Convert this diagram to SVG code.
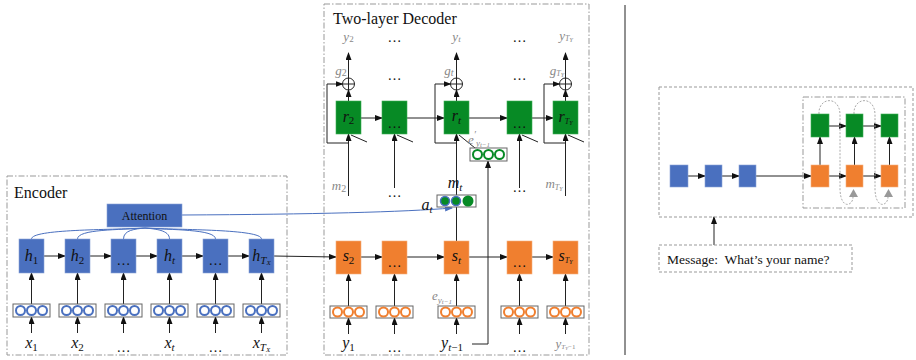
<svg xmlns="http://www.w3.org/2000/svg" width="916" height="360" viewBox="0 0 916 360">
<defs>
<marker id="ah" markerWidth="8" markerHeight="6" refX="7" refY="3" orient="auto" markerUnits="userSpaceOnUse"><path d="M0,0 L8,3 L0,6 z" fill="#111"/></marker>
<marker id="ahb" markerWidth="8" markerHeight="6" refX="7" refY="3" orient="auto" markerUnits="userSpaceOnUse"><path d="M0,0 L8,3 L0,6 z" fill="#4a70bf"/></marker>
<style>
.frame{fill:none;stroke:#999;stroke-width:1}
.dd{stroke-dasharray:6 2 1.5 2}
.ds{stroke-dasharray:3 2}
.blue{fill:#4a70bf;stroke:#8aa3d6;stroke-width:0.6}
.green{fill:#078a25;stroke:#3fae55;stroke-width:0.6}
.orange{fill:#f07f2f;stroke:#f6b07e;stroke-width:0.6}
.emb{fill:#fff;stroke:#666;stroke-width:1}
.cb{fill:#fff;stroke:#4a70bf;stroke-width:2}
.cg{fill:#fff;stroke:#078a25;stroke-width:2}
.co{fill:#fff;stroke:#f07f2f;stroke-width:2}
.ln{fill:none;stroke:#222;stroke-width:1}
.arr{fill:none;stroke:#222;stroke-width:1;marker-end:url(#ah)}
.att{fill:none;stroke:#4a70bf;stroke-width:1}
.title{font-family:"Liberation Serif",serif;font-size:16px;fill:#111}
.m{font-family:"Liberation Serif",serif;font-style:italic;font-size:16px;fill:#111}
.mg{font-family:"Liberation Serif",serif;font-style:italic;font-size:13px;fill:#888}
.dots{font-family:"Liberation Serif",serif;font-size:14px;fill:#111}
.sub{font-size:11px}
.up{font-style:normal}
.loop{fill:none;stroke:#aaa;stroke-width:1;stroke-dasharray:2 1.5}
</style>
</defs>
<rect width="916" height="360" fill="#fff"/>

<!-- frames -->
<rect id="encoder-frame" class="frame dd" x="7" y="176" width="280" height="179"/>
<text class="title" x="14" y="198">Encoder</text>
<rect id="decoder-frame" class="frame dd" x="324" y="4" width="265" height="351"/>
<text class="title" x="333" y="24">Two-layer Decoder</text>
<line x1="625" y1="5" x2="625" y2="355" stroke="#222" stroke-width="1"/>

<!-- connectors -->
<g id="connectors">
  <path class="att" d="M31.5,239 C31.5,229 110,230 145,228"/>
  <path class="att" d="M77.5,239 C77.5,229 120,230 145,228"/>
  <path class="att" d="M123.5,239 C123.5,230 135,229 145,228"/>
  <path class="att" d="M169.5,239 C169.5,230 155,229 145,228"/>
  <path class="att" d="M215.5,239 C215.5,229 170,230 145,228"/>
  <path class="att" d="M261.5,239 C261.5,229 180,230 145,228"/>
  <path d="M182,215 Q380,214 452,208" fill="none" stroke="#4a70bf" stroke-width="1" marker-end="url(#ahb)"/>
  <line class="arr" x1="44" y1="256" x2="65" y2="256"/>
  <line class="arr" x1="90" y1="256" x2="111" y2="256"/>
  <line class="arr" x1="136" y1="256" x2="157" y2="256"/>
  <line class="arr" x1="182" y1="256" x2="203" y2="256"/>
  <line class="arr" x1="228" y1="256" x2="249" y2="256"/>
  <line class="arr" x1="274" y1="256" x2="336" y2="257"/>
  <g>
    <line class="arr" x1="31.5" y1="304" x2="31.5" y2="273"/>
    <line class="arr" x1="77.5" y1="304" x2="77.5" y2="273"/>
    <line class="arr" x1="123.5" y1="304" x2="123.5" y2="273"/>
    <line class="arr" x1="169.5" y1="304" x2="169.5" y2="273"/>
    <line class="arr" x1="215.5" y1="304" x2="215.5" y2="273"/>
    <line class="arr" x1="261.5" y1="304" x2="261.5" y2="273"/>
    <line class="arr" x1="31.5" y1="333" x2="31.5" y2="317"/>
    <line class="arr" x1="77.5" y1="333" x2="77.5" y2="317"/>
    <line class="arr" x1="123.5" y1="333" x2="123.5" y2="317"/>
    <line class="arr" x1="169.5" y1="333" x2="169.5" y2="317"/>
    <line class="arr" x1="215.5" y1="333" x2="215.5" y2="317"/>
    <line class="arr" x1="261.5" y1="333" x2="261.5" y2="317"/>
  </g>
  <line class="arr" x1="361" y1="257" x2="382" y2="257"/>
  <line class="arr" x1="407" y1="257" x2="444" y2="257"/>
  <line class="arr" x1="469" y1="257" x2="507" y2="257"/>
  <line class="arr" x1="532" y1="257" x2="553" y2="257"/>
  <line class="arr" x1="348.5" y1="306" x2="348.5" y2="274"/>
  <line class="arr" x1="394.5" y1="306" x2="394.5" y2="274"/>
  <line class="arr" x1="456.5" y1="306" x2="456.5" y2="274"/>
  <line class="arr" x1="519.5" y1="306" x2="519.5" y2="274"/>
  <line class="arr" x1="565.5" y1="306" x2="565.5" y2="274"/>
  <line class="arr" x1="348.5" y1="334" x2="348.5" y2="318"/>
  <line class="arr" x1="394.5" y1="334" x2="394.5" y2="318"/>
  <line class="arr" x1="456.5" y1="334" x2="456.5" y2="318"/>
  <line class="arr" x1="519.5" y1="334" x2="519.5" y2="318"/>
  <line class="arr" x1="565.5" y1="334" x2="565.5" y2="318"/>
  <line class="ln" x1="456.5" y1="241" x2="456.5" y2="207"/>
  <line class="arr" x1="456.5" y1="195" x2="456.5" y2="134"/>
  <path class="arr" d="M472,344 H488 V161"/>
  <line class="ln" x1="475" y1="148" x2="459" y2="135"/>
  <line class="arr" x1="361" y1="118" x2="382" y2="118"/>
  <line class="arr" x1="407" y1="118" x2="444" y2="118"/>
  <line class="arr" x1="469" y1="118" x2="507" y2="118"/>
  <line class="arr" x1="532" y1="118" x2="553" y2="118"/>
  <line class="arr" x1="348.5" y1="196" x2="348.5" y2="134"/>
  <line class="arr" x1="394.5" y1="188" x2="394.5" y2="134"/>
  <line class="arr" x1="519.5" y1="188" x2="519.5" y2="134"/>
  <line class="arr" x1="565.5" y1="196" x2="565.5" y2="134"/>
  <line class="ln" x1="367" y1="142" x2="351" y2="135"/>
  <line class="ln" x1="413" y1="142" x2="397" y2="135"/>
  <line class="ln" x1="538" y1="142" x2="522" y2="135"/>
  <line class="ln" x1="584" y1="142" x2="568" y2="135"/>
  <path class="arr" d="M348.5,143 H327 V84 H342.5"/>
  <path class="arr" d="M456.5,143 H435 V84 H450.5"/>
  <path class="arr" d="M565.5,143 H544 V84 H559.5"/>
  <line class="arr" x1="348.5" y1="101" x2="348.5" y2="90"/>
  <line class="arr" x1="456.5" y1="101" x2="456.5" y2="90"/>
  <line class="arr" x1="565.5" y1="101" x2="565.5" y2="90"/>
  <line class="arr" x1="348.5" y1="78" x2="348.5" y2="53"/>
  <line class="arr" x1="456.5" y1="78" x2="456.5" y2="53"/>
  <line class="arr" x1="565.5" y1="78" x2="565.5" y2="53"/>
  <line class="arr" x1="688" y1="176" x2="705" y2="176"/>
  <line class="arr" x1="722" y1="176" x2="739" y2="176"/>
  <line class="arr" x1="756" y1="176" x2="811" y2="176"/>
  <line class="arr" x1="829" y1="176" x2="846" y2="176"/>
  <line class="arr" x1="863" y1="176" x2="881" y2="176"/>
  <line class="arr" x1="829" y1="126" x2="846" y2="126"/>
  <line class="arr" x1="863" y1="126" x2="881" y2="126"/>
  <line class="arr" x1="820" y1="165" x2="820" y2="137"/>
  <line class="arr" x1="854.5" y1="165" x2="854.5" y2="137"/>
  <line class="arr" x1="889.5" y1="165" x2="889.5" y2="137"/>
  <path class="loop" d="M819,114 C818,97 840,95 840,115 L840,190 C841,210 853,206 853,197"/>
  <path class="loop" d="M854,114 C853,97 875,95 875,115 L875,190 C876,210 888,206 888,197"/>
  <line class="arr" x1="714" y1="245" x2="714" y2="217"/>
</g>

<!-- encoder nodes -->
<g id="attention"><rect class="blue" x="107" y="204" width="75" height="23"/><text x="144.5" y="220" text-anchor="middle" font-family="Liberation Serif, serif" font-size="12" fill="#111">Attention</text></g>
<g id="h1"><rect class="blue" x="19" y="239" width="25" height="34"/><text class="m" x="31.5" y="261" text-anchor="middle">h<tspan class="sub up" dy="3">1</tspan></text></g>
<g id="h2"><rect class="blue" x="65" y="239" width="25" height="34"/><text class="m" x="77.5" y="261" text-anchor="middle">h<tspan class="sub up" dy="3">2</tspan></text></g>
<g id="h3"><rect class="blue" x="111" y="239" width="25" height="34"/><text class="dots" x="123.5" y="265" text-anchor="middle">…</text></g>
<g id="ht"><rect class="blue" x="157" y="239" width="25" height="34"/><text class="m" x="169.5" y="261" text-anchor="middle">h<tspan class="sub" dy="3">t</tspan></text></g>
<g id="h5"><rect class="blue" x="203" y="239" width="25" height="34"/><text class="dots" x="215.5" y="265" text-anchor="middle">…</text></g>
<g id="hTx"><rect class="blue" x="249" y="239" width="25" height="34"/><text class="m" x="261.5" y="261" text-anchor="middle">h<tspan class="sub" dy="3">T</tspan><tspan font-size="7" dy="1">X</tspan></text></g>

<g id="enc-emb">
  <g id="ex1"><rect class="emb" x="13" y="304" width="37" height="13"/><circle class="cb" cx="20.5" cy="310.5" r="4.5"/><circle class="cb" cx="31.5" cy="310.5" r="4.5"/><circle class="cb" cx="42.5" cy="310.5" r="4.5"/></g>
  <g id="ex2"><rect class="emb" x="59" y="304" width="37" height="13"/><circle class="cb" cx="66.5" cy="310.5" r="4.5"/><circle class="cb" cx="77.5" cy="310.5" r="4.5"/><circle class="cb" cx="88.5" cy="310.5" r="4.5"/></g>
  <g id="ex3"><rect class="emb" x="105" y="304" width="37" height="13"/><circle class="cb" cx="112.5" cy="310.5" r="4.5"/><circle class="cb" cx="123.5" cy="310.5" r="4.5"/><circle class="cb" cx="134.5" cy="310.5" r="4.5"/></g>
  <g id="ex4"><rect class="emb" x="151" y="304" width="37" height="13"/><circle class="cb" cx="158.5" cy="310.5" r="4.5"/><circle class="cb" cx="169.5" cy="310.5" r="4.5"/><circle class="cb" cx="180.5" cy="310.5" r="4.5"/></g>
  <g id="ex5"><rect class="emb" x="197" y="304" width="37" height="13"/><circle class="cb" cx="204.5" cy="310.5" r="4.5"/><circle class="cb" cx="215.5" cy="310.5" r="4.5"/><circle class="cb" cx="226.5" cy="310.5" r="4.5"/></g>
  <g id="ex6"><rect class="emb" x="243" y="304" width="37" height="13"/><circle class="cb" cx="250.5" cy="310.5" r="4.5"/><circle class="cb" cx="261.5" cy="310.5" r="4.5"/><circle class="cb" cx="272.5" cy="310.5" r="4.5"/></g>
</g>
<g id="enc-labels">
  <text class="m" x="31.5" y="348" text-anchor="middle">x<tspan class="sub up" dy="3">1</tspan></text>
  <text class="m" x="77.5" y="348" text-anchor="middle">x<tspan class="sub up" dy="3">2</tspan></text>
  <text class="dots" x="123.5" y="352" text-anchor="middle">…</text>
  <text class="m" x="169.5" y="348" text-anchor="middle">x<tspan class="sub" dy="3">t</tspan></text>
  <text class="dots" x="215.5" y="352" text-anchor="middle">…</text>
  <text class="m" x="261.5" y="348" text-anchor="middle">x<tspan class="sub" dy="3">T</tspan><tspan font-size="7" dy="1">X</tspan></text>
</g>

<!-- decoder lower layer -->
<g id="s2"><rect class="orange" x="336" y="241" width="25" height="33"/><text class="m" x="348.5" y="261" text-anchor="middle" fill="#333">s<tspan class="sub up" dy="3">2</tspan></text></g>
<g id="s3"><rect class="orange" x="382" y="241" width="25" height="33"/><text class="dots" x="394.5" y="267" text-anchor="middle">…</text></g>
<g id="st"><rect class="orange" x="444" y="241" width="25" height="33"/><text class="m" x="456.5" y="261" text-anchor="middle" fill="#333">s<tspan class="sub" dy="3">t</tspan></text></g>
<g id="s5"><rect class="orange" x="507" y="241" width="25" height="33"/><text class="dots" x="519.5" y="267" text-anchor="middle">…</text></g>
<g id="sTy"><rect class="orange" x="553" y="241" width="25" height="33"/><text class="m" x="565.5" y="261" text-anchor="middle" font-size="12" fill="#333">s<tspan font-size="8" dy="2">T</tspan><tspan font-size="6" dy="1">Y</tspan></text></g>

<g id="dec-emb">
  <g id="ey1"><rect class="emb" x="330" y="306" width="37" height="12"/><circle class="co" cx="337.5" cy="312" r="4.5"/><circle class="co" cx="348.5" cy="312" r="4.5"/><circle class="co" cx="359.5" cy="312" r="4.5"/></g>
  <g id="ey2"><rect class="emb" x="376" y="306" width="37" height="12"/><circle class="co" cx="383.5" cy="312" r="4.5"/><circle class="co" cx="394.5" cy="312" r="4.5"/><circle class="co" cx="405.5" cy="312" r="4.5"/></g>
  <g id="ey3"><rect class="emb" x="438" y="306" width="37" height="12"/><circle class="co" cx="445.5" cy="312" r="4.5"/><circle class="co" cx="456.5" cy="312" r="4.5"/><circle class="co" cx="467.5" cy="312" r="4.5"/></g>
  <g id="ey4"><rect class="emb" x="501" y="306" width="37" height="12"/><circle class="co" cx="508.5" cy="312" r="4.5"/><circle class="co" cx="519.5" cy="312" r="4.5"/><circle class="co" cx="530.5" cy="312" r="4.5"/></g>
  <g id="ey5"><rect class="emb" x="547" y="306" width="37" height="12"/><circle class="co" cx="554.5" cy="312" r="4.5"/><circle class="co" cx="565.5" cy="312" r="4.5"/><circle class="co" cx="576.5" cy="312" r="4.5"/></g>
</g>
<g id="dec-labels">
  <text class="m" x="348.5" y="348" text-anchor="middle">y<tspan class="sub up" dy="3">1</tspan></text>
  <text class="dots" x="394.5" y="352" text-anchor="middle">…</text>
  <text class="m" x="452" y="348" text-anchor="middle" fill="#555">y<tspan class="sub" dy="3">t</tspan><tspan class="sub up">−1</tspan></text>
  <text class="dots" x="519.5" y="352" text-anchor="middle">…</text>
  <text class="mg" x="565.5" y="348" text-anchor="middle" font-size="9" fill="#555">y<tspan font-size="7" dy="1">T</tspan><tspan font-size="5" dy="1">Y</tspan><tspan font-size="7" dy="-1" class="up">−1</tspan></text>
  <text class="mg" x="442" y="300" text-anchor="middle">e<tspan font-size="9" dy="3">y</tspan><tspan font-size="7" dy="1">t−1</tspan></text>
  <text class="m" x="427" y="210" text-anchor="middle" fill="#333">a<tspan class="sub" dy="3">t</tspan></text>
  <text class="m" x="455" y="188" text-anchor="middle" fill="#555">m<tspan class="sub" dy="3">t</tspan></text>
  <text class="mg" x="339" y="190" text-anchor="middle" font-size="14">m<tspan class="up" font-size="10" dy="2">2</tspan></text>
  <text class="dots" x="394.5" y="197" text-anchor="middle">…</text>
  <text class="dots" x="519.5" y="192" text-anchor="middle">…</text>
  <text class="mg" x="554" y="188" text-anchor="middle" font-size="11">m<tspan font-size="8" dy="2">T</tspan><tspan font-size="6" dy="1">Y</tspan></text>
  <text class="mg" x="479" y="144" text-anchor="middle" font-size="14">e<tspan font-size="10" dy="-6">′</tspan><tspan font-size="9" dy="8">y</tspan><tspan font-size="7" dy="1">t−1</tspan></text>
</g>

<!-- m_t and e' boxes -->
<g id="mt"><rect class="emb" x="437" y="195" width="39" height="12"/><circle cx="445" cy="201" r="4.5" fill="#078a25" stroke="#4a70bf" stroke-width="1.5"/><circle cx="456" cy="201" r="4.5" fill="#078a25" stroke="#4a70bf" stroke-width="1.5"/><circle cx="468" cy="201" r="5.5" fill="#078a25"/></g>
<g id="eprime"><rect class="emb" x="470" y="148" width="37" height="13"/><circle class="cg" cx="477.5" cy="154.5" r="4.5"/><circle class="cg" cx="488.5" cy="154.5" r="4.5"/><circle class="cg" cx="499.5" cy="154.5" r="4.5"/></g>

<!-- decoder upper layer -->
<g id="r2"><rect class="green" x="336" y="101" width="25" height="33"/><text class="m" x="348.5" y="122" text-anchor="middle" fill="#222">r<tspan class="sub up" dy="2">2</tspan></text></g>
<g id="r3"><rect class="green" x="382" y="101" width="25" height="33"/><text class="dots" x="394.5" y="128" text-anchor="middle">…</text></g>
<g id="rt"><rect class="green" x="444" y="101" width="25" height="33"/><text class="m" x="456.5" y="121" text-anchor="middle" fill="#222">r<tspan class="sub" dy="3">t</tspan></text></g>
<g id="r5"><rect class="green" x="507" y="101" width="25" height="33"/><text class="dots" x="519.5" y="128" text-anchor="middle">…</text></g>
<g id="rTy"><rect class="green" x="553" y="101" width="25" height="33"/><text class="m" x="565.5" y="122" text-anchor="middle" font-size="12" fill="#222">r<tspan font-size="8" dy="2">T</tspan><tspan font-size="6" dy="1">Y</tspan></text></g>

<!-- gates and outputs -->
<g id="g2"><circle cx="348.5" cy="84" r="6" fill="#fff" stroke="#222"/><path class="ln" d="M342.5,84 H354.5 M348.5,78 V90"/><text class="mg" x="341" y="75" text-anchor="middle">g<tspan class="up" font-size="10" dy="1">2</tspan></text><text class="mg" x="348.5" y="41" text-anchor="middle" font-size="12">y<tspan class="up" font-size="9" dy="1">2</tspan></text></g>
<g id="gt"><circle cx="456.5" cy="84" r="6" fill="#fff" stroke="#222"/><path class="ln" d="M450.5,84 H462.5 M456.5,78 V90"/><text class="mg" x="449" y="75" text-anchor="middle">g<tspan font-size="10" dy="1">t</tspan></text><text class="mg" x="456.5" y="41" text-anchor="middle" font-size="12">y<tspan font-size="9" dy="1">t</tspan></text></g>
<g id="gTy"><circle cx="565.5" cy="84" r="6" fill="#fff" stroke="#222"/><path class="ln" d="M559.5,84 H571.5 M565.5,78 V90"/><text class="mg" x="557" y="75" text-anchor="middle" font-size="11">g<tspan font-size="8" dy="1">T</tspan><tspan font-size="6" dy="1">Y</tspan></text><text class="mg" x="566" y="40" text-anchor="middle" font-size="11">y<tspan font-size="8" dy="1">T</tspan><tspan font-size="6" dy="1">Y</tspan></text></g>
<text class="dots" x="394.5" y="42" text-anchor="middle">…</text>
<text class="dots" x="519.5" y="42" text-anchor="middle">…</text>
<text class="dots" x="394.5" y="80" text-anchor="middle">…</text>
<text class="dots" x="519.5" y="80" text-anchor="middle">…</text>

<!-- right panel -->
<rect id="right-frame" class="frame ds" x="659" y="87" width="254" height="130"/>
<rect id="right-inner" class="frame dd" x="803" y="97" width="102" height="111"/>
<g id="rb1"><rect class="blue" x="670" y="165" width="18" height="22"/></g>
<g id="rb2"><rect class="blue" x="705" y="165" width="17" height="22"/></g>
<g id="rb3"><rect class="blue" x="739" y="165" width="17" height="22"/></g>
<g id="ro1"><rect class="orange" x="811" y="165" width="18" height="22"/></g>
<g id="ro2"><rect class="orange" x="846" y="165" width="17" height="22"/></g>
<g id="ro3"><rect class="orange" x="881" y="165" width="17" height="22"/></g>
<g id="rg1"><rect class="green" x="811" y="114" width="18" height="23"/></g>
<g id="rg2"><rect class="green" x="846" y="114" width="17" height="23"/></g>
<g id="rg3"><rect class="green" x="881" y="114" width="17" height="23"/></g>
<path d="M849,197 L853.5,189 L858,197 z" fill="#999"/>
<path d="M884,197 L888.5,189 L893,197 z" fill="#999"/>
<g id="message"><rect class="frame ds" x="659" y="245" width="193" height="27"/><text x="667" y="264" font-family="Liberation Serif, serif" font-size="13.5" fill="#111">Message:&#160; What’s your name?</text></g>
</svg>
